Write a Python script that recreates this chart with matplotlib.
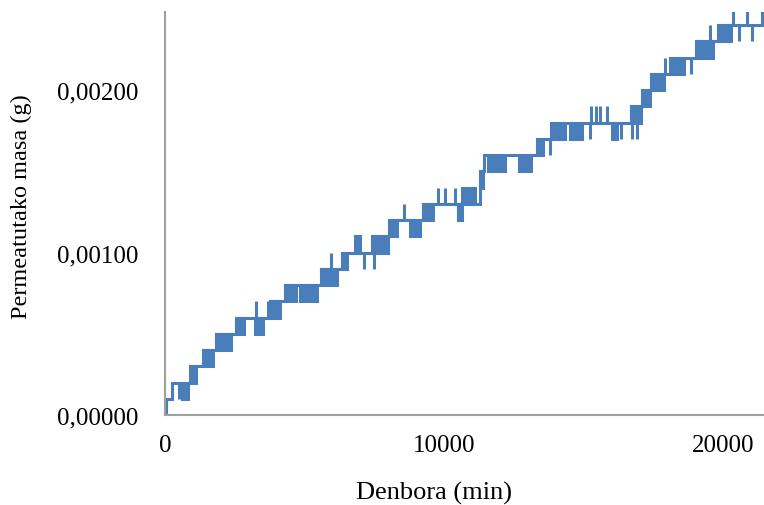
import matplotlib
matplotlib.use("Agg")
import matplotlib.pyplot as plt
from matplotlib.ticker import FuncFormatter

# base step line: time (min) where the reading changes, and the new mass (g)
base_t = [0, 20, 240, 896, 1350, 1828, 2545, 3763, 4301, 5581, 6332, 7407,
          8040, 9258, 11289, 11445, 13320, 13833, 16702, 17108, 17418, 18100,
          19019, 19808, 21420]
base_m = [0.0000, 0.0001, 0.0002, 0.0003, 0.0004, 0.0005, 0.0006, 0.0007,
          0.0008, 0.0009, 0.0010, 0.0011, 0.0012, 0.0013, 0.0015, 0.0016,
          0.0017, 0.0018, 0.0019, 0.0020, 0.0021, 0.0022, 0.0023, 0.0024,
          0.0024]

# dense flicker bands between two readings
band_t0 = [597, 896, 1350, 1828, 2545, 3226, 3763, 4301, 4600, 4840, 5581,
           6332, 6810, 7407, 8040, 8780, 9258, 10500, 10657, 11289, 11588,
           12687, 13320, 13833, 14513, 16009, 16702, 17108, 17418, 18100,
           19019, 19808]
band_t1 = [836, 1111, 1733, 2354, 2832, 3524, 4121, 4540, 4700, 5437, 6153,
           6511, 6989, 8004, 8303, 9138, 9616, 10633, 11110, 11410, 12185,
           13117, 13559, 14334, 14932, 16188, 17060, 17383, 17896, 18613,
           19652, 20286]
band_lo = [0.0001, 0.0002, 0.0003, 0.0004, 0.0005, 0.0005, 0.0006, 0.0007,
           0.0007, 0.0007, 0.0008, 0.0009, 0.0010, 0.0010, 0.0011, 0.0011,
           0.0012, 0.0012, 0.0013, 0.0014, 0.0015, 0.0015, 0.0016, 0.0017,
           0.0017, 0.0017, 0.0018, 0.0019, 0.0020, 0.0021, 0.0022, 0.0023]
band_hi = [0.0002, 0.0003, 0.0004, 0.0005, 0.0006, 0.0006, 0.0007, 0.0008,
           0.0008, 0.0008, 0.0009, 0.0010, 0.0011, 0.0011, 0.0012, 0.0012,
           0.0013, 0.0013, 0.0014, 0.0015, 0.0016, 0.0016, 0.0017, 0.0018,
           0.0018, 0.0018, 0.0019, 0.0020, 0.0021, 0.0022, 0.0023, 0.0024]

# single spikes
spike_t = [502, 3250, 3703, 5939, 7133, 7491, 8578, 9795, 10034, 10392,
           10487, 13798, 15231, 15267, 15435, 15590, 15829, 16343, 16726,
           16905, 17920, 18840, 19533, 20370, 20573, 20848, 21051, 21385]
spike_lo = [0.0001, 0.0006, 0.0006, 0.0009, 0.0009, 0.0009, 0.0012, 0.0013,
            0.0013, 0.0013, 0.0012, 0.0016, 0.0017, 0.0018, 0.0018, 0.0018,
            0.0018, 0.0017, 0.0017, 0.0017, 0.0021, 0.0021, 0.0023, 0.0024,
            0.0023, 0.0024, 0.0023, 0.0024]
spike_hi = [0.0002, 0.0007, 0.0007, 0.0010, 0.0010, 0.0010, 0.0013, 0.0014,
            0.0014, 0.0014, 0.0013, 0.0017, 0.0018, 0.0019, 0.0019, 0.0019,
            0.0019, 0.0018, 0.0018, 0.0018, 0.0022, 0.0022, 0.0024, 0.0025,
            0.0024, 0.0025, 0.0024, 0.0025]

blue = "#4A7EBB"
lw = 2.2

plt.rcParams["font.family"] = ["Liberation Serif", "DejaVu Serif"]

fig = plt.figure(figsize=(7.64, 5.06), dpi=100)
ax = fig.add_axes([165 / 764, 90 / 506, 599 / 764, 403 / 506])

ax.step(base_t, base_m, where="post", color=blue, lw=lw, solid_joinstyle="miter")
widths = [b - a for a, b in zip(band_t0, band_t1)]
heights = [h - l for l, h in zip(band_lo, band_hi)]
ax.bar(band_t0, heights, width=widths, bottom=band_lo, align="edge",
       color=blue, edgecolor=blue, linewidth=lw)
ax.vlines(spike_t, spike_lo, spike_hi, color=blue, lw=lw)

ax.set_xlim(0, 21470)
ax.set_ylim(0, 0.00248)
ax.set_xticks([0, 10000, 20000])
ax.set_yticks([0, 0.001, 0.002])
ax.yaxis.set_major_formatter(FuncFormatter(lambda v, p: f"{v:.5f}".replace(".", ",")))

for s in ["top", "right"]:
    ax.spines[s].set_visible(False)
for s in ["left", "bottom"]:
    ax.spines[s].set_color("#a0a0a0")
    ax.spines[s].set_linewidth(1.5)
ax.tick_params(length=0, labelsize=18)
ax.tick_params(axis="y", pad=19)
ax.tick_params(axis="x", pad=14)

fig.text(434 / 764, 1 - 493 / 506, "Denbora (min)", ha="center", va="center", fontsize=19)
fig.text(21 / 764, 1 - 207 / 506, "Permeatutako masa (g)", ha="center", va="center",
         rotation=90, fontsize=17.5)

fig.savefig("out.png", dpi=100)
